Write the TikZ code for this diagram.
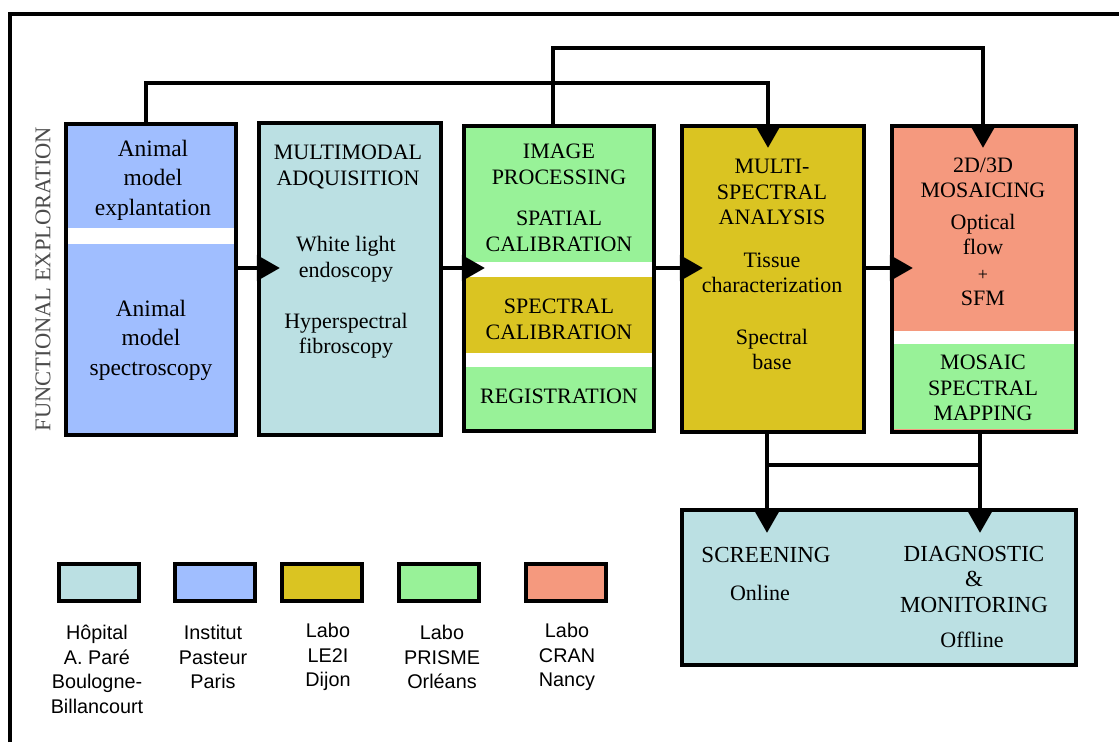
\documentclass[tikz,border=0pt]{standalone}
\usepackage{fontspec}
\setmainfont{Liberation Serif}
\newfontfamily\legendfont{Liberation Sans}
\usetikzlibrary{arrows.meta}
\definecolor{hopital}{RGB}{187,224,227}
\definecolor{pasteur}{RGB}{160,190,255}
\definecolor{letwoi}{RGB}{218,196,34}
\definecolor{prisme}{RGB}{152,242,152}
\definecolor{cran}{RGB}{245,153,126}
\begin{document}
\begin{tikzpicture}[x=1pt,y=-1pt,
  stage/.style={draw, line width=4.2pt, inner sep=0pt},
  txt/.style={align=center, font=\fontsize{22}{25.5}\selectfont},
  big/.style={align=center, font=\fontsize{23.5}{29.5}\selectfont},
  flow/.style={line width=4.2pt, -{Triangle[length=23pt,width=25pt]}},
  link/.style={line width=4.2pt},
  swatch/.style={draw, line width=4.2pt, minimum width=80pt, minimum height=37pt, inner sep=0pt},
  key/.style={align=center, font=\legendfont\fontsize{19.8}{24.5}\selectfont}]
\useasboundingbox (0,0) rectangle (1119,742);
\draw[line width=4pt] (9.5,742) |- (1119,14);

\node[stage, fill=pasteur, minimum width=170pt, minimum height=311pt] (animal) at (151,279.5) {};
\node[stage, fill=hopital, minimum width=182pt, minimum height=312pt] (acquis) at (350,279) {};
\node[stage, fill=prisme, minimum width=190pt, minimum height=305pt] (improc) at (559,278.5) {};
\node[stage, fill=letwoi, minimum width=182pt, minimum height=306pt] (analysis) at (773,279) {};
\node[stage, fill=cran, minimum width=184pt, minimum height=306pt] (mosaic) at (984,279) {};
\node[stage, fill=hopital, minimum width=394pt, minimum height=155pt] (output) at (879,587.5) {};

% bands inside the split boxes
\fill[white] (68.1,228) rectangle (233.9,244);
\fill[white] (466.1,262) rectangle (651.9,277);
\fill[letwoi] (466.1,277) rectangle (651.9,353);
\fill[white] (466.1,353) rectangle (651.9,367);
\fill[white] (894.1,331) rectangle (1073.9,344);
\fill[prisme] (894.1,344) rectangle (1073.9,428.9);

\node[rotate=90, font=\fontsize{22.5}{27}\selectfont, text=black!70] (side) at (43,279) {FUNCTIONAL EXPLORATION};

\node[big] (explant) at (153,180) {Animal\\model\\explantation};
\node[big] (spectro) at (151,340) {Animal\\model\\spectroscopy};
\node[txt, font=\fontsize{22}{26}\selectfont] (acqtitle) at (348,167) {MULTIMODAL\\ADQUISITION};
\node[txt] (endo) at (346,259) {White light\\endoscopy};
\node[txt] (fibro) at (346,335.5) {Hyperspectral\\fibroscopy};
\node[txt] (imtitle) at (559,164.5) {IMAGE\\PROCESSING};
\node[txt] (spatial) at (559,231.5) {SPATIAL\\CALIBRATION};
\node[txt] (speccal) at (559,319.5) {SPECTRAL\\CALIBRATION};
\node[txt] (regis) at (559,396) {REGISTRATION};
\node[txt] (antitle) at (772,192) {MULTI-\\SPECTRAL\\ANALYSIS};
\node[txt] (tissue) at (772,273) {Tissue\\characterization};
\node[txt] (base) at (772,349.5) {Spectral\\base};
\node[txt] (mostitle) at (983,178) {2D/3D\\MOSAICING};
\node[txt] (sfm) at (983,260) {Optical\\flow\\{\fontsize{18}{25.3}\selectfont +}\\SFM};
\node[txt] (mapping) at (983,388) {MOSAIC\\SPECTRAL\\MAPPING};
\node[txt, font=\fontsize{23}{25.5}\selectfont] (screen) at (766,555) {SCREENING};
\node[txt] (online) at (760,593) {Online};
\node[txt, font=\fontsize{23}{25.5}\selectfont] (diag) at (974,579) {DIAGNOSTIC\\\&\\MONITORING};
\node[txt] (offline) at (972,640) {Offline};

\coordinate (mid) at (0,268);
\coordinate (top1) at (0,83);
\coordinate (top2) at (0,48);
\coordinate (join) at (0,465);
\draw[flow] (animal.east |- mid) -- ([xshift=23pt]acquis.west |- mid);
\draw[flow] (acquis.east |- mid) -- ([xshift=23pt]improc.west |- mid);
\draw[flow] (improc.east |- mid) -- ([xshift=23pt]analysis.west |- mid);
\draw[flow] (analysis.east |- mid) -- ([xshift=23pt]mosaic.west |- mid);
\draw[flow] ([xshift=-5pt]animal.north) |- ([xshift=-5pt]analysis.north |- top1) -- ([xshift=-5pt,yshift=-24pt]analysis.north);
\draw[flow] ([xshift=-6pt]improc.north) |- ([xshift=-1pt]mosaic.north |- top2) -- ([xshift=-1pt,yshift=-24pt]mosaic.north);
\draw[flow] ([xshift=-6pt]analysis.south) -- ([xshift=-6pt,yshift=-25pt]analysis.south |- output.north);
\draw[flow] ([xshift=-4pt]mosaic.south) -- ([xshift=-4pt,yshift=-25pt]mosaic.south |- output.north);
\draw[link] ([xshift=-6pt]analysis.south |- join) -- ([xshift=-4pt]mosaic.south |- join);

% legend
\node[swatch, fill=hopital] (kh) at (99,582.5) {};
\node[swatch, fill=pasteur] (kp) at (215,582.5) {};
\node[swatch, fill=letwoi] (kl) at (322,582.5) {};
\node[swatch, fill=prisme] (kr) at (439,582.5) {};
\node[swatch, fill=cran] (kc) at (566,582.5) {};
\node[key] (khtext) at (97,669.5) {Hôpital\\A. Paré\\Boulogne-\\Billancourt};
\node[key] (kptext) at (213,657) {Institut\\Pasteur\\Paris};
\node[key] (kltext) at (328,657) {Labo\\LE2I\\Dijon};
\node[key] (krtext) at (442,657) {Labo\\PRISME\\Orléans};
\node[key] (kctext) at (567,657) {Labo\\CRAN\\Nancy};
\end{tikzpicture}
\end{document}
